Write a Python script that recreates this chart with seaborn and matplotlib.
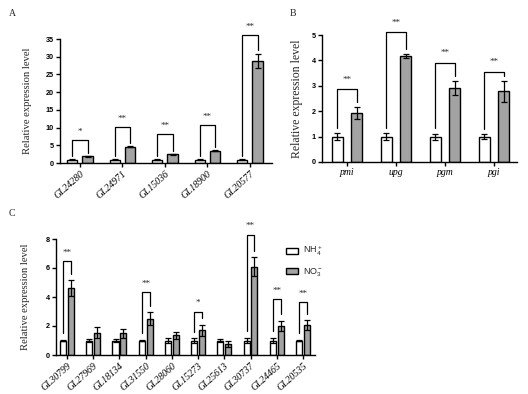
import numpy as np
import pandas as pd
import matplotlib
matplotlib.use("Agg")
import matplotlib.pyplot as plt
import seaborn as sns
from matplotlib.patches import Patch

sns.set_theme(style="ticks")
plt.rcParams["font.family"] = ["Liberation Serif", "DejaVu Serif"]
plt.rcParams["mathtext.default"] = "regular"

# ---------------- data ----------------
treatments = ["NH$_4^+$", "NO$_3^-$"]

genes_A = ["GL24280", "GL24971", "GL15036", "GL18900", "GL20577"]
nh4_A = [0.9, 0.9, 0.9, 0.9, 0.9]
no3_A = [1.9, 4.6, 2.4, 3.5, 28.9]
nh4_err_A = [0.1, 0.1, 0.1, 0.1, 0.1]
no3_err_A = [0.15, 0.2, 0.15, 0.25, 2.0]
sig_A = ["*", "**", "**", "**", "**"]
sig_h_A = [6.5, 10.2, 8.2, 10.7, 36.2]

genes_B = ["pmi", "upg", "pgm", "pgi"]
nh4_B = [1.0, 1.0, 1.0, 1.0]
no3_B = [1.93, 4.18, 2.92, 2.78]
nh4_err_B = [0.14, 0.13, 0.12, 0.1]
no3_err_B = [0.22, 0.07, 0.28, 0.42]
sig_B = ["**", "**", "**", "**"]
sig_h_B = [2.87, 5.1, 3.9, 3.55]

genes_C = ["GL30799", "GL27969", "GL18134", "GL31550", "GL28060",
           "GL15273", "GL25613", "GL30737", "GL24465", "GL20535"]
nh4_C = [1.0, 1.0, 1.0, 1.0, 1.0, 1.0, 1.0, 1.0, 1.0, 1.0]
no3_C = [4.6, 1.55, 1.5, 2.5, 1.35, 1.7, 0.75, 6.1, 2.0, 2.05]
nh4_err_C = [0.05, 0.1, 0.12, 0.05, 0.15, 0.15, 0.12, 0.18, 0.2, 0.05]
no3_err_C = [0.55, 0.4, 0.3, 0.45, 0.25, 0.4, 0.2, 0.65, 0.35, 0.35]
sig_C = ["**", None, None, "**", None, "*", None, "**", "**", "**"]
sig_h_C = [6.5, None, None, 4.35, None, 3.0, None, 8.3, 3.85, 3.65]

palette = ["white", "#a3a3a3"]
W, H = 528, 394
fig = plt.figure(figsize=(W / 100, H / 100), dpi=100)


def make_ax(l, r, b, t):
    return fig.add_axes([l / W, 1 - b / H, (r - l) / W, (b - t) / H])


def panel(ax, genes, nh4, no3, e1, e2, sig, sig_h, ylim, yticks, xlim,
          width, gap, gapv, ylab_size, rot, star_off, labelpad):
    df = pd.DataFrame({
        "gene": genes * 2,
        "treat": [treatments[0]] * len(genes) + [treatments[1]] * len(genes),
        "val": list(nh4) + list(no3),
    })
    sns.barplot(data=df, x="gene", y="val", hue="treat", hue_order=treatments,
                palette=palette, width=width, gap=gap, errorbar=None,
                edgecolor="black", linewidth=1.0, legend=False, ax=ax)
    errs = [e1, e2]
    tops = []
    centers = []
    bar_conts = list(ax.containers)
    for k, cont in enumerate(bar_conts):
        xs = [p.get_x() + p.get_width() / 2 for p in cont.patches]
        hs = [p.get_height() for p in cont.patches]
        ax.errorbar(xs, hs, yerr=errs[k], fmt="none", ecolor="black",
                    elinewidth=0.9, capsize=2.2, capthick=0.9, zorder=5)
        centers.append(xs)
        tops.append([h + e for h, e in zip(hs, errs[k])])
    for i, (s, h) in enumerate(zip(sig, sig_h)):
        if s is None:
            continue
        x1, x2 = centers[0][i], centers[1][i]
        y1, y2 = tops[0][i] + gapv, tops[1][i] + gapv
        ax.plot([x1, x1, x2, x2], [y1, h, h, y2], color="black", lw=0.9,
                clip_on=False, zorder=6)
        ax.text((x1 + x2) / 2, h + star_off, s, ha="center", va="bottom",
                fontsize=6.5, clip_on=False)
    ax.set_ylim(*ylim)
    ax.set_yticks(yticks)
    ax.set_xlim(*xlim)
    sns.despine(ax=ax)
    for sp in ["left", "bottom"]:
        ax.spines[sp].set_linewidth(1.0)
        ax.spines[sp].set_color("black")
    ax.set_xlabel("")
    ax.set_ylabel("Relative expression level", fontsize=ylab_size,
                  labelpad=labelpad)
    ax.tick_params(axis="both", length=3, width=1, colors="black", pad=1.5)
    for lab in ax.get_yticklabels():
        lab.set_fontfamily(["Liberation Sans", "DejaVu Sans"])
        lab.set_fontweight("bold")
        lab.set_fontsize(5.2)
    for lab in ax.get_xticklabels():
        lab.set_fontstyle("italic")
        lab.set_fontsize(7)
        if rot:
            lab.set_rotation(42)
            lab.set_ha("right")
            lab.set_rotation_mode("anchor")


axA = make_ax(60, 272, 163, 39)
panel(axA, genes_A, nh4_A, no3_A, nh4_err_A, no3_err_A, sig_A, sig_h_A,
      (0, 35), [0, 5, 10, 15, 20, 25, 30, 35], (-0.47, 4.52),
      0.72, 0.33, 0.9, 7.7, True, 1.2, 10)

axB = make_ax(322, 517, 162, 35)
panel(axB, genes_B, nh4_B, no3_B, nh4_err_B, no3_err_B, sig_B, sig_h_B,
      (0, 5), [0, 1, 2, 3, 4, 5], (-0.51, 3.47),
      0.78, 0.43, 0.2, 8.5, False, 0.22, 6)

axC = make_ax(56, 315, 355, 239)
panel(axC, genes_C, nh4_C, no3_C, nh4_err_C, no3_err_C, sig_C, sig_h_C,
      (0, 8), [0, 2, 4, 6, 8], (-0.42, 9.46),
      0.6, 0.23, 0.45, 7.7, True, 0.3, 11)

for lbl, x, y in [("A", 12, 13), ("B", 293, 13), ("C", 12, 214)]:
    fig.text(x / W, 1 - y / H, lbl, fontsize=7, ha="center", va="center")

handles = [Patch(facecolor=c, edgecolor="black", linewidth=1.0) for c in palette]
leg = fig.legend(handles, treatments, loc="upper left",
                 bbox_to_anchor=(278 / W, 1 - 236 / H), frameon=False,
                 handlelength=1.3, handleheight=0.6,
                 labelspacing=0.9, handletextpad=0.6,
                 prop={"family": ["Liberation Sans", "DejaVu Sans"], "size": 6.5})

fig.savefig("out.png", dpi=100)
